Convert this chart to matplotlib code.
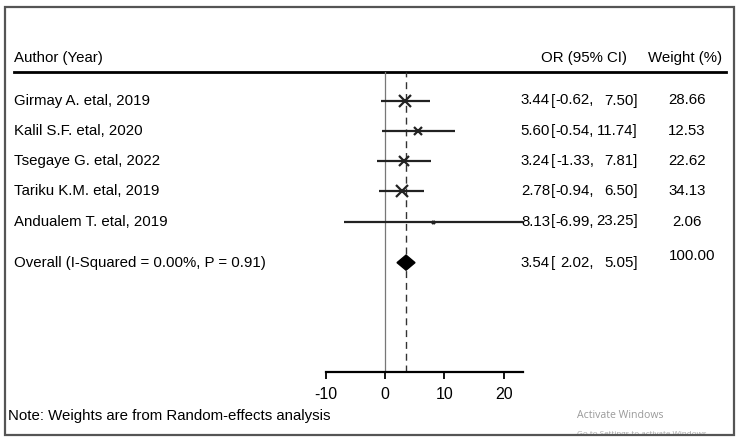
import matplotlib
matplotlib.use('Agg')
import matplotlib.pyplot as plt
from matplotlib.patches import Polygon, Rectangle
import numpy as np

# ── data ──────────────────────────────────────────────────────────
studies = ['Girmay A. etal, 2019', 'Kalil S.F. etal, 2020', 'Tsegaye G. etal, 2022',
           'Tariku K.M. etal, 2019', 'Andualem T. etal, 2019']
or_est = [3.44, 5.60, 3.24, 2.78, 8.13]
ci_low = [-0.62, -0.54, -1.33, -0.94, -6.99]
ci_high = [7.50, 11.74, 7.81, 6.50, 23.25]
weights = [28.66, 12.53, 22.62, 34.13, 2.06]

overall_label = 'Overall (I-Squared = 0.00%, P = 0.91)'
overall_est = 3.54
overall_low = 2.02
overall_high = 5.05
overall_weight = 100.00

x_ticks = [-10, 0, 10, 20]

FONT = ['Liberation Sans', 'DejaVu Sans']
plt.rcParams['font.family'] = FONT
FS = 10.8

W, H = 744, 440
ROW0, STEP = 100.5, 30.25        # pixel y of first row, row spacing
OVERALL_ROW = 5.36               # overall sits a little lower


def row_px(i):
    return ROW0 + STEP * i


fig = plt.figure(figsize=(W / 100, H / 100), dpi=100)
fig.patch.set_facecolor('white')

# text / frame layer in pixel coords
tx = fig.add_axes([0, 0, 1, 1])
tx.set_xlim(0, W)
tx.set_ylim(H, 0)
tx.axis('off')

# forest panel: x in OR units, y in row index
px_left, px_right, px_top, px_bot = 325.7, 523, 72, 372
ax = fig.add_axes([px_left / W, (H - px_bot) / H,
                   (px_right - px_left) / W, (px_bot - px_top) / H])
ax.patch.set_alpha(0)
ax.set_xlim(-10, 23.25)
ax.set_ylim((px_bot - ROW0) / STEP, (px_top - ROW0) / STEP)
for s in ['top', 'left', 'right']:
    ax.spines[s].set_visible(False)
ax.spines['bottom'].set_linewidth(1.6)
ax.set_yticks([])
ax.set_xticks(x_ticks)
ax.set_xticklabels([str(t) for t in x_ticks], fontsize=11.5)
ax.tick_params(axis='x', direction='out', length=5, width=1.3, pad=6)

# reference lines
ax.axvline(0, color='#777777', lw=0.9, zorder=1)
ax.axvline(overall_est, color='#333333', lw=1.0, ls=(0, (5, 3.5)), zorder=1)

# study CIs + weight-scaled markers
rows = np.arange(len(studies))
ms = 1.5 * np.sqrt(np.array(weights))
ax.hlines(rows, ci_low, ci_high, color='#222222', lw=1.6, zorder=3, clip_on=False)
for r, e, m in zip(rows, or_est, ms):
    ax.plot(e, r, marker='x', ms=m, mew=1.6, color='#222222', zorder=4, clip_on=False)

# pooled diamond
dh = 0.25
ax.add_patch(Polygon([(overall_low, OVERALL_ROW), (overall_est, OVERALL_ROW - dh),
                      (overall_high, OVERALL_ROW), (overall_est, OVERALL_ROW + dh)],
                     closed=True, facecolor='black', edgecolor='black', zorder=4))

# header
tx.text(14, 58, 'Author (Year)', fontsize=FS, va='center', ha='left')
tx.text(627, 58, 'OR (95% CI)', fontsize=FS, va='center', ha='right')
tx.text(722, 58, 'Weight (%)', fontsize=FS, va='center', ha='right')
tx.plot([14, 726], [72, 72], color='black', lw=2.0)


def ci_text(y, est, lo, hi):
    tx.text(550, y, f'{est:.2f}', fontsize=FS, va='center', ha='right')
    tx.text(551, y, '[', fontsize=FS, va='center', ha='left')
    tx.text(594, y, f'{lo:.2f},', fontsize=FS, va='center', ha='right')
    tx.text(638, y, f'{hi:.2f}]', fontsize=FS, va='center', ha='right')


for i, name in enumerate(studies):
    y = row_px(i)
    tx.text(14, y, name, fontsize=FS, va='center', ha='left')
    ci_text(y, or_est[i], ci_low[i], ci_high[i])
    tx.text(687, y, f'{weights[i]:.2f}', fontsize=FS, va='center', ha='center')

yo = row_px(OVERALL_ROW)
tx.text(14, yo, overall_label, fontsize=FS, va='center', ha='left')
ci_text(yo, overall_est, overall_low, overall_high)
tx.text(692, yo - 7, f'{overall_weight:.2f}', fontsize=FS, va='center', ha='center')

# footnote + screen watermark (second line is cut by the window edge)
tx.text(8, 416, 'Note: Weights are from Random-effects analysis', fontsize=FS,
        va='center', ha='left')
tx.text(577, 416, 'Activate Windows', fontsize=7.6, color='#9a9a9a',
        family=['Open Sans', 'DejaVu Sans'], va='center', ha='left')
tx.text(577, 434, 'Go to Settings to activate Windows', fontsize=5.8, color='#a8a8a8',
        family=['Open Sans', 'DejaVu Sans'], va='center', ha='left')
tx.add_patch(Rectangle((0, 435.5), W, 10, facecolor='white', edgecolor='none', zorder=8))

# outer frame
tx.add_patch(Rectangle((5, 7), 729, 428, fill=False, edgecolor='#555555', lw=1.6, zorder=9))

fig.savefig('out.png', dpi=100, facecolor='white')
